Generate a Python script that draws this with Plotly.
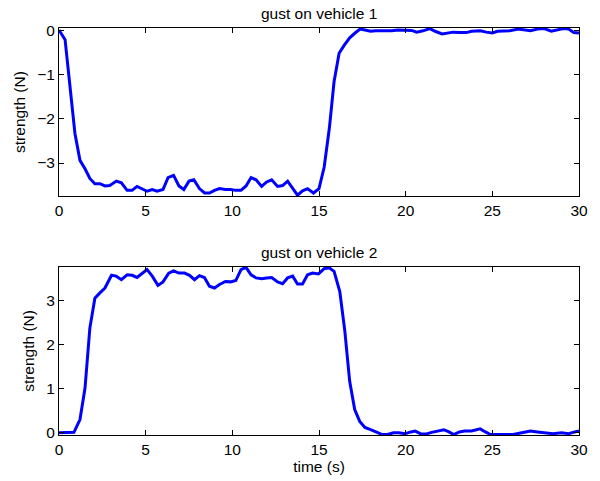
import plotly.graph_objects as go

# gust on vehicle 1
t1 = [0, 0.35, 0.92, 1.21, 1.5, 1.78, 2.07, 2.36, 2.65, 2.93, 3.31, 3.6, 3.93, 4.22, 4.5, 4.79,
      5.08, 5.38, 5.66, 6.0, 6.29, 6.61, 6.92, 7.2, 7.5, 7.78, 8.1, 8.4, 8.68, 8.97, 9.26, 9.6,
      9.9, 10.2, 10.5, 10.79, 11.08, 11.37, 11.69, 11.98, 12.27, 12.61, 12.9, 13.19, 13.48,
      13.76, 14.05, 14.34, 14.68, 15.0, 15.3, 15.6, 15.87, 16.16, 16.45, 16.77, 17.08, 17.37,
      17.65, 17.98, 18.27, 18.6, 18.95, 19.2, 19.55, 19.97, 20.35, 20.63, 21.0, 21.4, 21.7,
      22.1, 22.43, 22.75, 23.1, 23.5, 23.8, 24.3, 24.65, 25.0, 25.3, 25.7, 26.0, 26.5, 26.87,
      27.2, 27.6, 28.0, 28.4, 28.8, 29.1, 29.4, 29.7, 30.0]
v1 = [0.02, -0.2, -2.33, -2.94, -3.13, -3.35, -3.47, -3.47, -3.52, -3.51, -3.41, -3.45, -3.62,
      -3.62, -3.53, -3.58, -3.64, -3.6, -3.64, -3.6, -3.33, -3.28, -3.52, -3.6, -3.41, -3.38,
      -3.58, -3.68, -3.68, -3.62, -3.58, -3.6, -3.6, -3.62, -3.62, -3.52, -3.33, -3.38, -3.53,
      -3.43, -3.38, -3.53, -3.51, -3.41, -3.57, -3.73, -3.63, -3.58, -3.68, -3.58, -3.09, -2.2,
      -1.15, -0.51, -0.33, -0.16, -0.05, 0.04, 0.02, -0.01, 0.0, 0.0, -0.01, 0.0, 0.02, 0.02,
      0.01, -0.03, 0.0, 0.05, -0.01, -0.07, -0.05, -0.03, -0.04, -0.04, -0.01, 0.0, -0.03,
      -0.05, -0.01, 0.0, 0.0, 0.04, 0.02, 0.0, 0.04, 0.05, -0.01, 0.02, 0.05, 0.04, -0.04, -0.05]

# gust on vehicle 2
t2 = [0, 0.35, 0.86, 1.21, 1.5, 1.78, 2.07, 2.36, 2.65, 3.03, 3.3, 3.6, 3.93, 4.22, 4.5, 4.79,
      5.08, 5.38, 5.71, 6.0, 6.33, 6.61, 6.92, 7.24, 7.53, 7.82, 8.1, 8.39, 8.68, 8.97, 9.26,
      9.6, 9.9, 10.2, 10.5, 10.79, 11.08, 11.37, 11.69, 11.98, 12.27, 12.61, 12.9, 13.19,
      13.48, 13.76, 14.05, 14.34, 14.63, 14.97, 15.3, 15.58, 15.87, 16.2, 16.49, 16.77, 17.06,
      17.35, 17.65, 17.98, 18.3, 18.65, 18.95, 19.3, 19.6, 19.97, 20.3, 20.55, 20.85, 21.16,
      21.5, 21.87, 22.2, 22.5, 22.77, 23.1, 23.4, 23.8, 24.0, 24.3, 24.6, 24.9, 25.4, 25.8,
      26.2, 26.7, 27.2, 27.6, 28.0, 28.5, 29.0, 29.4, 29.75, 30.0]
v2 = [-0.01, -0.01, 0.0, 0.29, 1.0, 2.37, 3.05, 3.17, 3.28, 3.57, 3.55, 3.47, 3.58, 3.57, 3.52,
      3.61, 3.7, 3.55, 3.34, 3.42, 3.62, 3.67, 3.62, 3.62, 3.57, 3.47, 3.56, 3.52, 3.32, 3.28,
      3.36, 3.43, 3.42, 3.45, 3.7, 3.75, 3.58, 3.51, 3.49, 3.51, 3.52, 3.42, 3.38, 3.51, 3.55,
      3.37, 3.37, 3.58, 3.62, 3.6, 3.72, 3.74, 3.66, 3.2, 2.3, 1.16, 0.52, 0.25, 0.11, 0.06,
      0.01, -0.05, -0.05, -0.01, -0.01, -0.03, 0.01, 0.03, -0.03, -0.04, 0.0, 0.03, 0.06, 0.01,
      -0.05, 0.01, 0.03, 0.03, 0.05, 0.08, 0.01, -0.05, -0.05, -0.05, -0.05, -0.01, 0.03, 0.01,
      -0.01, -0.03, -0.01, -0.03, 0.01, 0.03]

x_ticks = [0, 5, 10, 15, 20, 25, 30]
y1_ticks = [-3, -2, -1, 0]
y2_ticks = [0, 1, 2, 3]
titles = ["gust on vehicle 1", "gust on vehicle 2"]

FONT = "Liberation Sans, Arial, Helvetica, sans-serif"
FS = 15.5
BLUE = "#0000ff"

fig = go.Figure()
fig.add_trace(go.Scatter(x=t1, y=v1, mode="lines", line=dict(color=BLUE, width=3),
                         xaxis="x", yaxis="y", showlegend=False))
fig.add_trace(go.Scatter(x=t2, y=v2, mode="lines", line=dict(color=BLUE, width=3),
                         xaxis="x2", yaxis="y2", showlegend=False))

axis_common = dict(showline=True, linecolor="black", linewidth=1, mirror="ticks",
                   ticks="inside", ticklen=5, tickcolor="black", tickwidth=1,
                   showgrid=False, zeroline=False,
                   tickfont=dict(family=FONT, size=FS, color="black"))

fig.update_layout(
    width=600, height=481,
    margin=dict(l=59, r=19, t=28, b=46),
    plot_bgcolor="white", paper_bgcolor="white",
    font=dict(family=FONT, size=FS, color="black"),
    xaxis=dict(domain=[0, 1], anchor="y", range=[0, 30], tickvals=x_ticks, **axis_common),
    yaxis=dict(domain=[0.587, 1], anchor="x", range=[-3.75, 0.064], tickvals=y1_ticks,
               title=dict(text="strength (N)", standoff=7, font=dict(family=FONT, size=FS)),
               **axis_common),
    xaxis2=dict(domain=[0, 1], anchor="y2", range=[0, 30], tickvals=x_ticks,
                title=dict(text="time (s)", standoff=1, font=dict(family=FONT, size=FS)),
                **axis_common),
    yaxis2=dict(domain=[0, 0.413], anchor="x2", range=[-0.06, 3.76], tickvals=y2_ticks,
                title=dict(text="strength (N)", standoff=7, font=dict(family=FONT, size=FS)),
                **axis_common),
    annotations=[
        dict(text=titles[0], xref="paper", yref="paper", x=0.5, y=1, yshift=4,
             xanchor="center", yanchor="bottom", showarrow=False,
             font=dict(family=FONT, size=FS, color="black")),
        dict(text=titles[1], xref="paper", yref="paper", x=0.5, y=0.413, yshift=4,
             xanchor="center", yanchor="bottom", showarrow=False,
             font=dict(family=FONT, size=FS, color="black")),
    ],
)

fig.write_html("out.html")
